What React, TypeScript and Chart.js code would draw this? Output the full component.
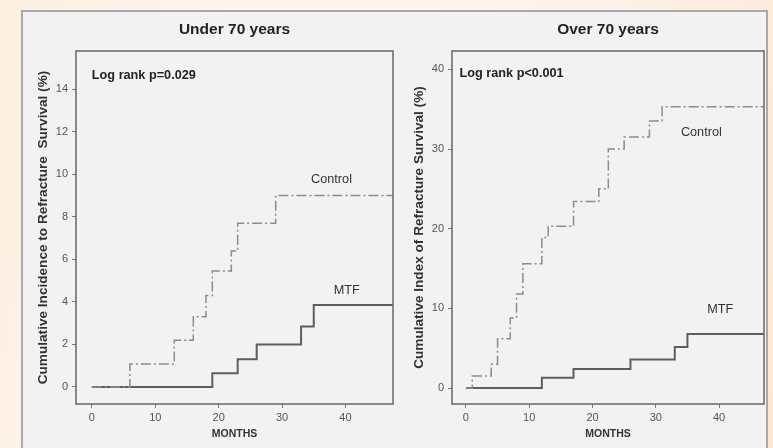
import React, { useEffect, useRef } from "react";
import { Chart, registerables } from "chart.js";

Chart.register(...registerables);

const FONT = "'Liberation Sans', Arial, Helvetica, sans-serif";

// ---------- data ----------
const underTitle = "Under 70 years";
const overTitle = "Over 70 years";

const underYTitle = "Cumulative Incidence to Refracture  Survival (%)";
const overYTitle = "Cumulative Index of Refracture Survival (%)";
const xTitle = "MONTHS";

const underControlMonths = [0, 6, 13, 16, 18, 19, 22, 23, 29, 47.5];
const underControlValues = [0, 1.08, 2.2, 3.3, 4.3, 5.45, 6.4, 7.7, 9.0, 9.0];
const underMtfMonths = [0, 19, 23, 26, 33, 35, 47.5];
const underMtfValues = [0, 0.65, 1.3, 2.0, 2.85, 3.85, 3.85];

const overControlMonths = [0, 1, 4, 5, 7, 8, 9, 12, 13, 17, 21, 22.5, 25, 29, 31, 47.1];
const overControlValues = [0, 1.5, 3.0, 6.2, 8.8, 11.8, 15.6, 18.9, 20.3, 23.4, 25.0, 30.0, 31.5, 33.5, 35.3, 35.3];
const overMtfMonths = [0, 12, 17, 26, 33, 35, 47.1];
const overMtfValues = [0, 1.3, 2.4, 3.6, 5.15, 6.8, 6.8];

const xTickValues = [0, 10, 20, 30, 40];
const underYTickValues = [0, 2, 4, 6, 8, 10, 12, 14];
const overYTickValues = [0, 10, 20, 30, 40];

const underXRange = [-2.5, 47.5];
const underYRange = [-0.8, 15.8];
const overXRange = [-2.2, 47.1];
const overYRange = [-2, 42.3];

const underNotes = [
  { text: "Log rank p=0.029", x: 0, y: 14.65, bold: true, align: "left" },
  { text: "Control", x: 37.8, y: 9.77, bold: false, align: "center" },
  { text: "MTF", x: 40.2, y: 4.52, bold: false, align: "center" },
];
const overNotes = [
  { text: "Log rank p<0.001", x: -1, y: 39.5, bold: true, align: "left" },
  { text: "Control", x: 37.2, y: 32.1, bold: false, align: "center" },
  { text: "MTF", x: 40.2, y: 9.8, bold: false, align: "center" },
];

// ---------- helpers ----------
function toPoints(xs: number[], ys: number[]) {
  return xs.map((x, i) => ({ x, y: ys[i] }));
}

const panelPlugin = {
  id: "panel",
  afterDatasetsDraw(chart: any, _args: any, opts: any) {
    const { ctx, chartArea: a, scales } = chart;
    const xs = scales.x;
    const ys = scales.y;
    ctx.save();
    ctx.strokeStyle = "#6e6e6e";
    ctx.lineWidth = 1.6;
    ctx.strokeRect(a.left, a.top, a.right - a.left, a.bottom - a.top);

    ctx.fillStyle = "#222";
    ctx.textAlign = "center";
    ctx.textBaseline = "middle";
    ctx.font = `bold 15.5px ${FONT}`;
    ctx.fillText(opts.title, (a.left + a.right) / 2, 17.5);

    for (const n of opts.notes) {
      ctx.font = `${n.bold ? "bold " : ""}12.7px ${FONT}`;
      ctx.fillStyle = n.bold ? "#222" : "#333";
      ctx.textAlign = n.align;
      ctx.fillText(n.text, xs.getPixelForValue(n.x), ys.getPixelForValue(n.y));
    }
    ctx.restore();
  },
};

function buildConfig(p: any) {
  return {
    type: "line",
    data: {
      datasets: [
        {
          label: "Control",
          data: toPoints(p.cMonths, p.cValues),
          stepped: true,
          borderColor: "#8c8c8c",
          borderWidth: 1.5,
          borderDash: [10, 3, 2, 3],
          pointRadius: 0,
          fill: false,
        },
        {
          label: "MTF",
          data: toPoints(p.mMonths, p.mValues),
          stepped: true,
          borderColor: "#5e5e5e",
          borderWidth: 2,
          pointRadius: 0,
          fill: false,
        },
      ],
    },
    options: {
      animation: false,
      responsive: false,
      maintainAspectRatio: false,
      devicePixelRatio: 1,
      layout: { padding: { left: 0, right: 2, top: 39, bottom: 0 } },
      plugins: {
        legend: { display: false },
        tooltip: { enabled: false },
        title: { display: false },
        panel: { title: p.title, notes: p.notes },
      },
      scales: {
        x: {
          type: "linear",
          min: p.xRange[0],
          max: p.xRange[1],
          afterFit: (s: any) => {
            s.height = 44;
          },
          afterBuildTicks: (s: any) => {
            s.ticks = xTickValues.map((v) => ({ value: v }));
          },
          ticks: {
            maxRotation: 0,
            autoSkip: false,
            padding: 3,
            color: "#555",
            font: { family: FONT, size: 11 },
          },
          grid: {
            display: true,
            drawOnChartArea: false,
            drawTicks: true,
            tickLength: 4,
            color: "#777",
          },
          border: { display: false },
          title: {
            display: true,
            text: xTitle,
            color: "#333",
            font: { family: FONT, size: 10.5, weight: "bold" },
            padding: { top: 2, bottom: 8 },
          },
        },
        y: {
          type: "linear",
          min: p.yRange[0],
          max: p.yRange[1],
          afterFit: (s: any) => {
            s.width = p.yWidth;
          },
          afterBuildTicks: (s: any) => {
            s.ticks = p.yTicks.map((v: number) => ({ value: v }));
          },
          ticks: {
            autoSkip: false,
            padding: 4,
            color: "#555",
            font: { family: FONT, size: 11 },
          },
          grid: {
            display: true,
            drawOnChartArea: false,
            drawTicks: true,
            tickLength: 4,
            color: "#777",
          },
          border: { display: false },
          title: {
            display: true,
            text: p.yTitle,
            color: "#333",
            font: { family: FONT, size: 13.6, weight: "bold" },
            padding: { top: p.yTitlePad, bottom: 0 },
          },
        },
      },
    },
    plugins: [panelPlugin],
  };
}

function Panel(props: any) {
  const ref = useRef<HTMLCanvasElement | null>(null);
  useEffect(() => {
    if (!ref.current) return;
    const chart = new Chart(ref.current, buildConfig(props.cfg) as any);
    return () => chart.destroy();
  }, []);
  return (
    <canvas
      ref={ref}
      width={props.w}
      height={props.h}
      style={{
        position: "absolute",
        left: props.left,
        top: props.top,
        width: props.w,
        height: props.h,
      }}
    />
  );
}

export default function App() {
  const under = {
    title: underTitle,
    yTitle: underYTitle,
    cMonths: underControlMonths,
    cValues: underControlValues,
    mMonths: underMtfMonths,
    mValues: underMtfValues,
    xRange: underXRange,
    yRange: underYRange,
    yTicks: underYTickValues,
    notes: underNotes,
    yWidth: 53,
    yTitlePad: 12.5,
  };
  const over = {
    title: overTitle,
    yTitle: overYTitle,
    cMonths: overControlMonths,
    cValues: overControlValues,
    mMonths: overMtfMonths,
    mValues: overMtfValues,
    xRange: overXRange,
    yRange: overYRange,
    yTicks: overYTickValues,
    notes: overNotes,
    yWidth: 55,
    yTitlePad: 14.5,
  };
  return (
    <div
      style={{
        position: "fixed",
        left: 0,
        top: 0,
        width: 773,
        height: 448,
        overflow: "hidden",
        background:
          "linear-gradient(100deg, #fdf0e2 0%, #fef6ee 35%, #fdf3e8 70%, #fbe8d4 100%)",
      }}
    >
      <div
        style={{
          position: "absolute",
          left: 21,
          top: 10,
          width: 747,
          height: 450,
          boxSizing: "border-box",
          border: "2px solid #a9a9a9",
          background: "#f2f2f2",
        }}
      />
      <Panel cfg={under} left={23} top={12} w={372} h={436} />
      <Panel cfg={over} left={397} top={12} w={369} h={436} />
    </div>
  );
}
